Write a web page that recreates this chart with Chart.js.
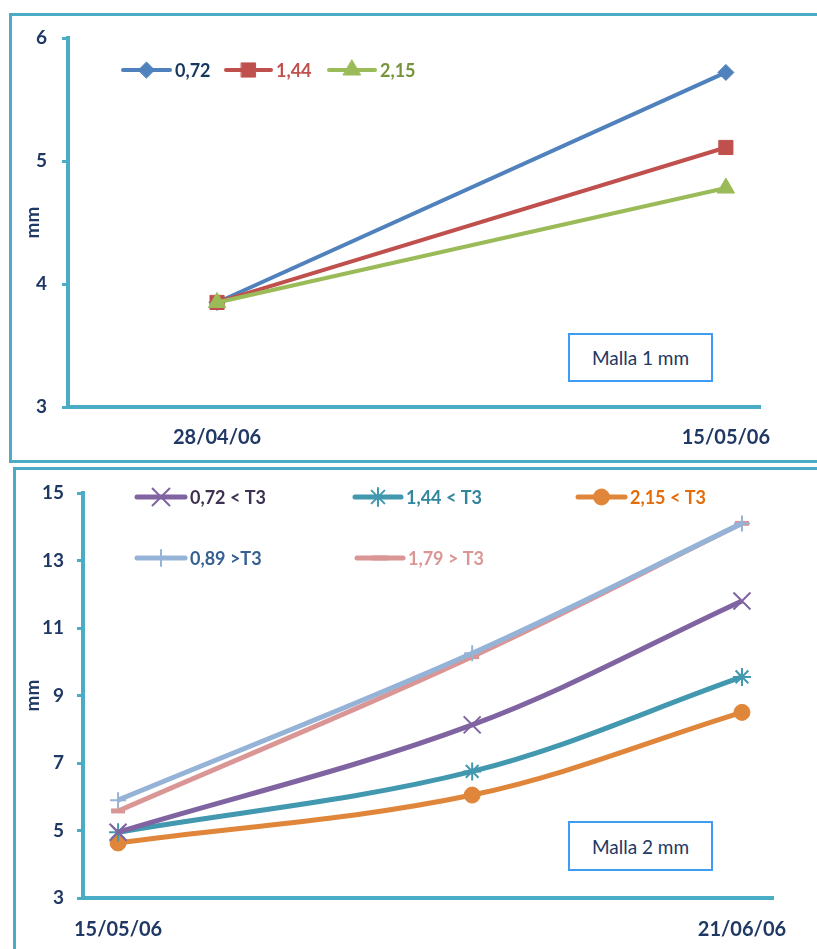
<!DOCTYPE html>
<html>
<head>
<meta charset="utf-8">
<script src="https://cdn.jsdelivr.net/npm/chart.js@4.4.1/dist/chart.umd.min.js"></script>
<style>
  body { margin: 0; background: #fff; width: 817px; height: 949px; overflow: hidden; position: relative; font-family: Lato, sans-serif; }
  .panel { position: absolute; border: 3px solid #4bacc6; box-sizing: border-box; }
  .chart { position: absolute; left: 0; }
  .note { position: absolute; z-index: 2; border: 2px solid #3f9cf5; background: #fff; color: #1f3864;
          font-size: 19px; display: flex; align-items: center; justify-content: center; box-sizing: border-box; }
</style>
</head>
<body>
<div class="panel" style="left:9px;top:13px;width:830px;height:450px"></div>
<div class="panel" style="left:13px;top:467px;width:830px;height:500px"></div>

<canvas id="malla1" class="chart" style="top:0" width="817" height="462"></canvas>
<canvas id="malla2" class="chart" style="top:462px" width="817" height="487"></canvas>

<div class="note" style="left:568px;top:333px;width:145px;height:49px">Malla 1 mm</div>
<div class="note" style="left:568px;top:821px;width:145px;height:50px">Malla 2 mm</div>

<script>
// Malla 1 mm: days since 28/04/06
const topDays = [0, 17];
const topTickLabels = ['28/04/06', '15/05/06'];
const m1_072 = [3.85, 5.72];
const m1_144 = [3.85, 5.11];
const m1_215 = [3.85, 4.78];

// Malla 2 mm: days since 15/05/06
const bottomDays = [0, 21, 37];
const bottomTickDays = [0, 37];
const bottomTickLabels = ['15/05/06', '21/06/06'];
const m2_072lt = [4.95, 8.13, 11.8];
const m2_144lt = [4.95, 6.75, 9.55];
const m2_215lt = [4.63, 6.05, 8.5];
const m2_089gt = [5.9, 10.25, 14.1];
const m2_179gt = [5.58, 10.15, 14.1];

const axisColor = '#4bacc6';
const labelColor = '#1f3864';

function series (label, values, days, color, extra) {
  return Object.assign({
    label,
    data: values.map((v, i) => ({ x: days[i], y: v })),
    borderColor: color,
    backgroundColor: color,
    pointBackgroundColor: color,
    pointBorderColor: color
  }, extra);
}

// legend drawn as line + marker + coloured text, like the office charts
function lineLegend (items) {
  return {
    id: 'lineLegend',
    afterDatasetsDraw (chart) {
      const ctx = chart.ctx;
      items.forEach((item, i) => {
        const ds = chart.data.datasets[i];
        ctx.save();
        ctx.strokeStyle = ds.borderColor;
        ctx.lineWidth = ds.borderWidth;
        ctx.lineCap = 'round';
        ctx.beginPath();
        ctx.moveTo(item.x, item.y);
        ctx.lineTo(item.x + item.len, item.y);
        ctx.stroke();
        ctx.fillStyle = ds.pointBackgroundColor;
        ctx.strokeStyle = ds.pointBorderColor;
        ctx.lineWidth = ds.pointBorderWidth;
        Chart.helpers.drawPoint(ctx, {
          pointStyle: ds.pointStyle,
          radius: ds.pointRadius,
          borderWidth: ds.pointBorderWidth,
          rotation: 0
        }, item.x + item.len / 2, item.y);
        ctx.font = 'bold 18px Lato';
        ctx.fillStyle = item.color;
        ctx.textBaseline = 'middle';
        ctx.fillText(ds.label, item.x + item.len + 5, item.y + 1);
        ctx.restore();
      });
    }
  };
}

function yAxis (min, max, step, width, pad) {
  return {
    min, max,
    afterFit: s => { s.width = width; },
    grid: { drawOnChartArea: false, drawTicks: true, tickLength: 6, tickWidth: 3, color: axisColor },
    border: { color: axisColor, width: 4 },
    ticks: { stepSize: step, padding: pad, color: labelColor, font: { family: 'Lato', weight: 'bold', size: 19 } },
    title: { display: true, text: 'mm', color: labelColor, font: { family: 'Lato', weight: 'bold', size: 19 }, padding: { top: 21 } }
  };
}

function xAxis (min, max, ticks, labels, height, pad) {
  return {
    type: 'linear', min, max,
    afterBuildTicks: s => { s.ticks = ticks.map(v => ({ value: v })); },
    afterFit: s => { s.height = height; },
    grid: { display: false },
    border: { color: axisColor, width: 4 },
    ticks: {
      padding: pad, autoSkip: false, maxRotation: 0, color: labelColor,
      font: { family: 'Lato', weight: 'bold', size: 20 },
      callback: (v, i) => labels[i]
    }
  };
}

new Chart(document.getElementById('malla1'), {
  type: 'line',
  data: {
    datasets: [
      series('0,72', m1_072, topDays, '#4f81bd', { borderWidth: 4, pointStyle: 'rectRot', pointRadius: 8, pointBorderWidth: 1, order: 2 }),
      series('1,44', m1_144, topDays, '#c0504d', { borderWidth: 4, pointStyle: 'rect', pointRadius: 10, pointBorderWidth: 1, order: 1 }),
      series('2,15', m1_215, topDays, '#9bbb59', { borderWidth: 4, pointStyle: 'triangle', pointRadius: 10, pointBorderWidth: 1, order: 0 })
    ]
  },
  options: {
    responsive: false,
    animation: false,
    layout: { padding: { top: 38, right: 57, left: 0, bottom: 0 } },
    plugins: { legend: { display: false }, tooltip: { enabled: false } },
    scales: {
      x: xAxis(-4.98, 18.14, topDays, topTickLabels, 55, 11),
      y: yAxis(3, 6, 1, 68, 15)
    }
  },
  plugins: [lineLegend([
    { x: 123, y: 70, len: 47, color: '#17375e' },
    { x: 226, y: 70, len: 45, color: '#c0504d' },
    { x: 329, y: 70, len: 46, color: '#77933c' }
  ])]
});

new Chart(document.getElementById('malla2'), {
  type: 'line',
  data: {
    datasets: [
      series('0,72 < T3', m2_072lt, bottomDays, '#8064a2', { borderWidth: 5, tension: 0.35, pointStyle: 'crossRot', pointRadius: 12, pointBorderWidth: 2 }),
      series('1,44 < T3', m2_144lt, bottomDays, '#4198af', { borderWidth: 5, tension: 0.35, pointStyle: 'star', pointRadius: 9, pointBorderWidth: 2 }),
      series('2,15 < T3', m2_215lt, bottomDays, '#e0863a', { borderWidth: 5, tension: 0.35, pointStyle: 'circle', pointRadius: 8, pointBorderWidth: 1 }),
      series('0,89 >T3', m2_089gt, bottomDays, '#95b3d7', { borderWidth: 5, tension: 0.35, pointStyle: 'cross', pointRadius: 8, pointBorderWidth: 2 }),
      series('1,79 > T3', m2_179gt, bottomDays, '#d99694', { borderWidth: 5, tension: 0.35, pointStyle: 'line', pointRadius: 7, pointBorderWidth: 5 })
    ]
  },
  options: {
    responsive: false,
    animation: false,
    layout: { padding: { top: 31, right: 44, left: 0, bottom: 0 } },
    plugins: { legend: { display: false }, tooltip: { enabled: false } },
    scales: {
      x: xAxis(-2.08, 38.84, bottomTickDays, bottomTickLabels, 51, 12),
      y: yAxis(3, 15, 2, 83, 13)
    }
  },
  plugins: [lineLegend([
    { x: 137, y: 35, len: 48, color: '#3f3151' },
    { x: 355, y: 35, len: 46, color: '#31859c' },
    { x: 578, y: 35, len: 47, color: '#e46c0a' },
    { x: 137, y: 96, len: 48, color: '#376092' },
    { x: 357, y: 96, len: 46, color: '#d99694' }
  ])]
});
</script>
</body>
</html>
